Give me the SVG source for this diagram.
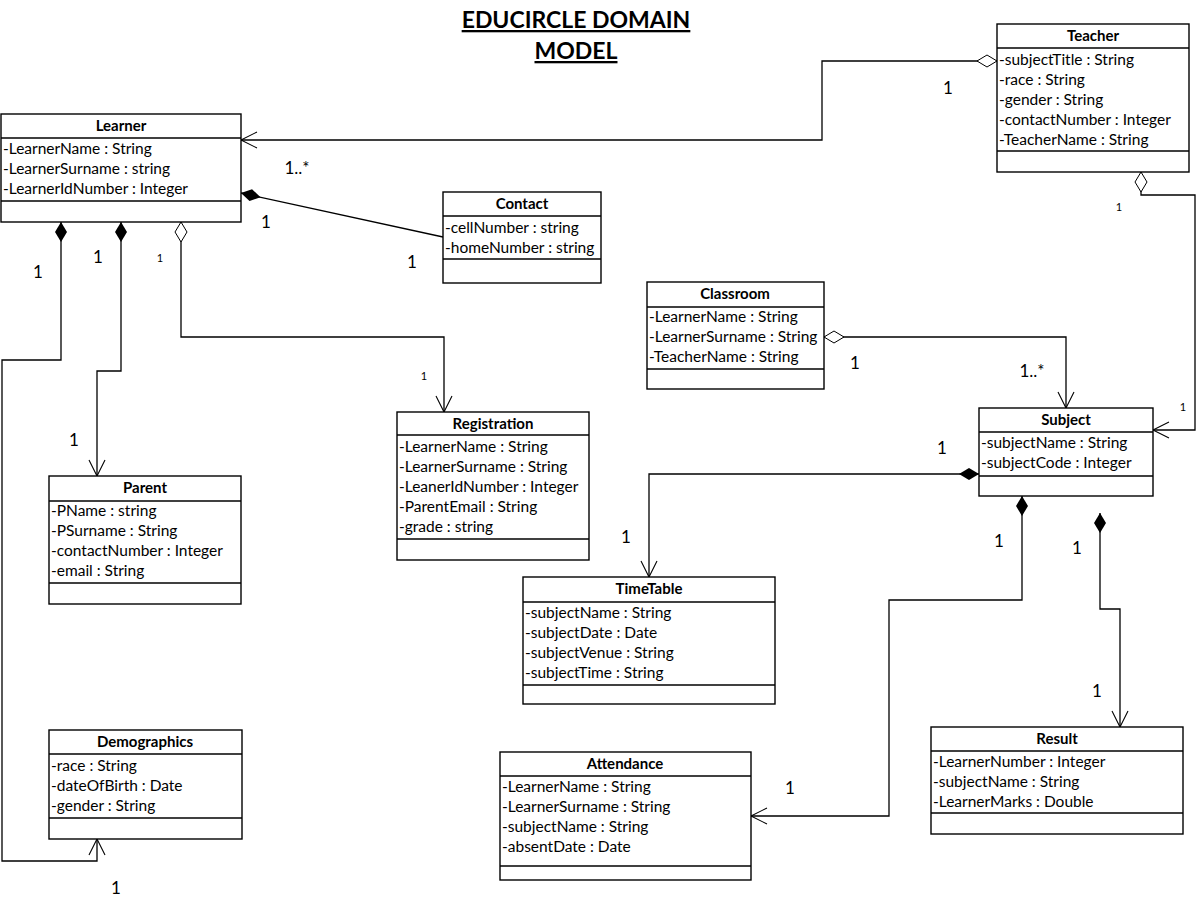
<svg xmlns="http://www.w3.org/2000/svg" width="1196" height="902" viewBox="0 0 1196 902">
<style>
.box{fill:#fff;stroke:#000;stroke-width:1.4}
.ln{stroke:#000;stroke-width:1.4}
.t{font-family:Lato,"Open Sans",sans-serif;font-size:15.5px;fill:#000}
.h{font-family:Lato,"Open Sans",sans-serif;font-size:15px;font-weight:bold;fill:#000;text-anchor:middle}
.m{font-family:Lato,"Open Sans",sans-serif;font-size:17px;fill:#000;text-anchor:middle}
.s{font-family:Lato,"Open Sans",sans-serif;font-size:11px;fill:#000;text-anchor:middle}
.ti{font-family:Lato,"Open Sans",sans-serif;font-size:23px;font-weight:bold;fill:#000;text-anchor:middle;text-decoration:underline}
.c{fill:none;stroke:#000;stroke-width:1.3}
</style>
<defs>
<marker id="dF" viewBox="0 0 20 12" refX="0" refY="6" markerWidth="20" markerHeight="12" orient="auto" markerUnits="userSpaceOnUse" overflow="visible"><path d="M0,6 L10,0 L20,6 L10,12 Z" fill="#000"/></marker>
<marker id="dO" viewBox="0 0 20 12" refX="0" refY="6" markerWidth="20" markerHeight="12" orient="auto" markerUnits="userSpaceOnUse" overflow="visible"><path d="M0,6 L10,0 L20,6 L10,12 Z" fill="#fff" stroke="#000" stroke-width="1"/></marker>
<marker id="ar" viewBox="0 0 16 16" refX="16" refY="8" markerWidth="16" markerHeight="16" orient="auto" markerUnits="userSpaceOnUse" overflow="visible"><path d="M0,0 L16,8 L0,16" fill="none" stroke="#000" stroke-width="1.1"/></marker>
</defs>
<rect width="1196" height="902" fill="#fff"/>
<g id="title">
<text class="ti" x="576" y="28">EDUCIRCLE DOMAIN</text>
<text class="ti" x="576" y="59">MODEL</text>
</g>
<g id="connectors">
<path class="c" d="M997,61 L822,61 L822,140 L241,140" marker-start="url(#dO)" marker-end="url(#ar)"/>
<path class="c" d="M241,193 L443,237" marker-start="url(#dF)"/>
<path class="c" d="M61,222 L61,360 L2,360 L2,861 L97,861 L97,839" marker-start="url(#dF)" marker-end="url(#ar)"/>
<path class="c" d="M121,222 L121,371 L97,371 L97,476" marker-start="url(#dF)" marker-end="url(#ar)"/>
<path class="c" d="M181,222 L181,337 L444,337 L444,412" marker-start="url(#dO)" marker-end="url(#ar)"/>
<path class="c" d="M1141,172 L1141,195 L1195,195 L1195,430 L1153,430" marker-start="url(#dO)" marker-end="url(#ar)"/>
<path class="c" d="M824,337 L1066,337 L1066,408" marker-start="url(#dO)" marker-end="url(#ar)"/>
<path class="c" d="M979,474 L649,474 L649,577" marker-start="url(#dF)" marker-end="url(#ar)"/>
<path class="c" d="M1022,496 L1022,600 L889,600 L889,816 L751,816" marker-start="url(#dF)" marker-end="url(#ar)"/>
<path class="c" d="M1100,513 L1100,609 L1120,609 L1120,727" marker-start="url(#dF)" marker-end="url(#ar)"/>
</g>
<g id="labels">
<text class="m" x="948" y="94">1</text>
<text class="m" x="297" y="174">1..*</text>
<text class="m" x="266" y="228">1</text>
<text class="m" x="412" y="268">1</text>
<text class="s" x="1119" y="211">1</text>
<text class="s" x="1183" y="411">1</text>
<text class="m" x="38" y="278">1</text>
<text class="m" x="98" y="263">1</text>
<text class="s" x="160" y="262">1</text>
<text class="s" x="424" y="380">1</text>
<text class="m" x="74" y="446">1</text>
<text class="m" x="855" y="369">1</text>
<text class="m" x="1032" y="377">1..*</text>
<text class="m" x="942" y="454">1</text>
<text class="m" x="626" y="543">1</text>
<text class="m" x="999" y="547">1</text>
<text class="m" x="1077" y="554">1</text>
<text class="m" x="1097" y="697">1</text>
<text class="m" x="790" y="794">1</text>
<text class="m" x="116" y="894">1</text>
</g>
<g id="Learner">
<rect class="box" x="1" y="114" width="240" height="108"/>
<line class="ln" x1="1" y1="138" x2="241" y2="138"/>
<line class="ln" x1="1" y1="201" x2="241" y2="201"/>
<text class="h" x="121" y="131">Learner</text>
<text class="t" x="3" y="154">-LearnerName : String</text>
<text class="t" x="3" y="174">-LearnerSurname : string</text>
<text class="t" x="3" y="194">-LearnerIdNumber : Integer</text>
</g>
<g id="Teacher">
<rect class="box" x="997" y="24" width="192" height="148"/>
<line class="ln" x1="997" y1="48" x2="1189" y2="48"/>
<line class="ln" x1="997" y1="151" x2="1189" y2="151"/>
<text class="h" x="1093" y="41">Teacher</text>
<text class="t" x="999" y="65">-subjectTitle : String</text>
<text class="t" x="999" y="85">-race : String</text>
<text class="t" x="999" y="105">-gender : String</text>
<text class="t" x="999" y="125">-contactNumber : Integer</text>
<text class="t" x="999" y="145">-TeacherName : String</text>
</g>
<g id="Contact">
<rect class="box" x="443" y="192" width="158" height="91"/>
<line class="ln" x1="443" y1="216" x2="601" y2="216"/>
<line class="ln" x1="443" y1="259" x2="601" y2="259"/>
<text class="h" x="522" y="209">Contact</text>
<text class="t" x="445" y="233">-cellNumber : string</text>
<text class="t" x="445" y="253">-homeNumber : string</text>
</g>
<g id="Classroom">
<rect class="box" x="647" y="282" width="177" height="107"/>
<line class="ln" x1="647" y1="307" x2="824" y2="307"/>
<line class="ln" x1="647" y1="369" x2="824" y2="369"/>
<text class="h" x="735" y="299">Classroom</text>
<text class="t" x="649" y="322">-LearnerName : String</text>
<text class="t" x="649" y="342">-LearnerSurname : String</text>
<text class="t" x="649" y="362">-TeacherName : String</text>
</g>
<g id="Subject">
<rect class="box" x="979" y="408" width="174" height="88"/>
<line class="ln" x1="979" y1="432" x2="1153" y2="432"/>
<line class="ln" x1="979" y1="476" x2="1153" y2="476"/>
<text class="h" x="1066" y="425">Subject</text>
<text class="t" x="981" y="448">-subjectName : String</text>
<text class="t" x="981" y="468">-subjectCode : Integer</text>
</g>
<g id="Registration">
<rect class="box" x="397" y="412" width="192" height="148"/>
<line class="ln" x1="397" y1="435" x2="589" y2="435"/>
<line class="ln" x1="397" y1="539" x2="589" y2="539"/>
<text class="h" x="493" y="429">Registration</text>
<text class="t" x="399" y="452">-LearnerName : String</text>
<text class="t" x="399" y="472">-LearnerSurname : String</text>
<text class="t" x="399" y="492">-LeanerIdNumber : Integer</text>
<text class="t" x="399" y="512">-ParentEmail : String</text>
<text class="t" x="399" y="532">-grade : string</text>
</g>
<g id="Parent">
<rect class="box" x="49" y="476" width="192" height="128"/>
<line class="ln" x1="49" y1="501" x2="241" y2="501"/>
<line class="ln" x1="49" y1="583" x2="241" y2="583"/>
<text class="h" x="145" y="493">Parent</text>
<text class="t" x="51" y="516">-PName : string</text>
<text class="t" x="51" y="536">-PSurname : String</text>
<text class="t" x="51" y="556">-contactNumber : Integer</text>
<text class="t" x="51" y="576">-email : String</text>
</g>
<g id="TimeTable">
<rect class="box" x="523" y="577" width="252" height="127"/>
<line class="ln" x1="523" y1="602" x2="775" y2="602"/>
<line class="ln" x1="523" y1="685" x2="775" y2="685"/>
<text class="h" x="649" y="594">TimeTable</text>
<text class="t" x="525" y="618">-subjectName : String</text>
<text class="t" x="525" y="638">-subjectDate : Date</text>
<text class="t" x="525" y="658">-subjectVenue : String</text>
<text class="t" x="525" y="678">-subjectTime : String</text>
</g>
<g id="Demographics">
<rect class="box" x="49" y="730" width="193" height="109"/>
<line class="ln" x1="49" y1="754" x2="242" y2="754"/>
<line class="ln" x1="49" y1="818" x2="242" y2="818"/>
<text class="h" x="145" y="747">Demographics</text>
<text class="t" x="51" y="771">-race : String</text>
<text class="t" x="51" y="791">-dateOfBirth : Date</text>
<text class="t" x="51" y="811">-gender : String</text>
</g>
<g id="Attendance">
<rect class="box" x="500" y="752" width="251" height="128"/>
<line class="ln" x1="500" y1="776" x2="751" y2="776"/>
<line class="ln" x1="500" y1="866" x2="751" y2="866"/>
<text class="h" x="625" y="769">Attendance</text>
<text class="t" x="502" y="792">-LearnerName : String</text>
<text class="t" x="502" y="812">-LearnerSurname : String</text>
<text class="t" x="502" y="832">-subjectName : String</text>
<text class="t" x="502" y="852">-absentDate : Date</text>
</g>
<g id="Result">
<rect class="box" x="931" y="727" width="252" height="107"/>
<line class="ln" x1="931" y1="751" x2="1183" y2="751"/>
<line class="ln" x1="931" y1="813" x2="1183" y2="813"/>
<text class="h" x="1057" y="744">Result</text>
<text class="t" x="933" y="767">-LearnerNumber : Integer</text>
<text class="t" x="933" y="787">-subjectName : String</text>
<text class="t" x="933" y="807">-LearnerMarks : Double</text>
</g>
</svg>
